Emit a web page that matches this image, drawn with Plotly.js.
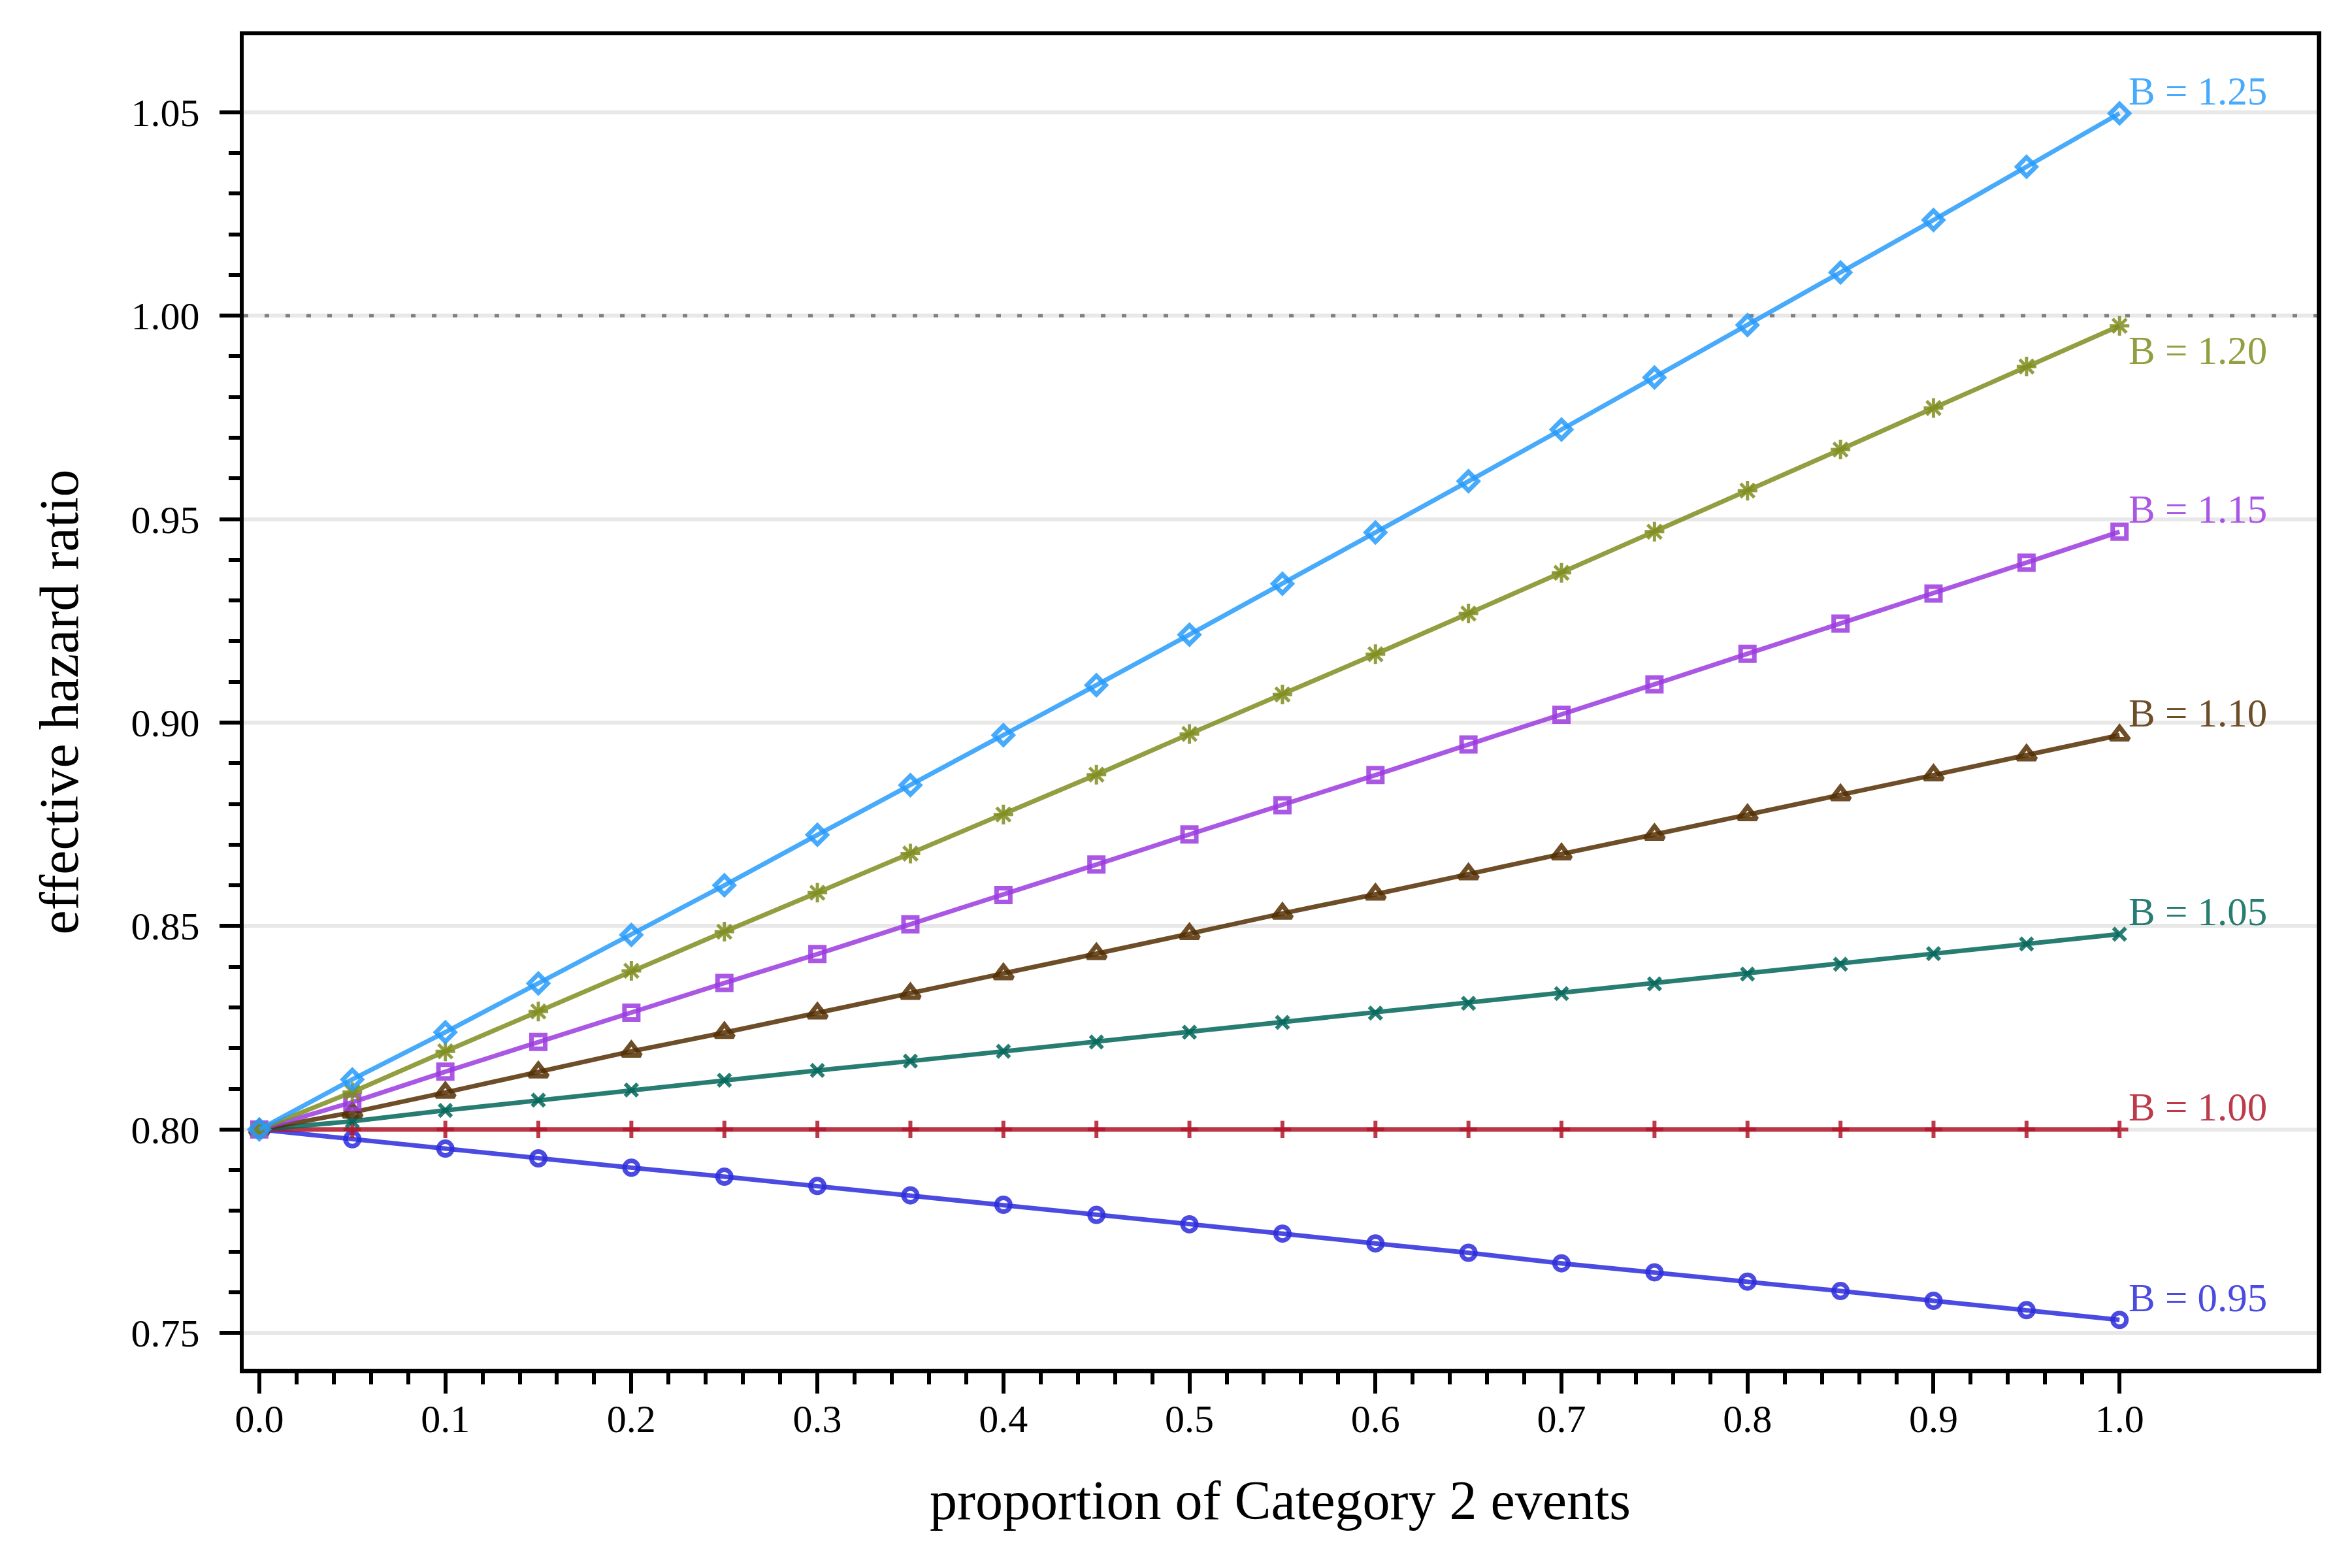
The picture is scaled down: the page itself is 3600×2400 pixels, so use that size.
<!DOCTYPE html>
<html>
<head>
<meta charset="utf-8">
<script src="https://cdn.plot.ly/plotly-3.0.1.min.js"></script>
<style>
  html, body { margin: 0; padding: 0; background: #fff; }
  #graph { width: 3600px; height: 2400px; }
</style>
</head>
<body>
<div id="graph"></div>
<script>
// proportion of Category 2 events
var props = [0.00, 0.05, 0.10, 0.15, 0.20, 0.25, 0.30, 0.35, 0.40, 0.45, 0.50,
             0.55, 0.60, 0.65, 0.70, 0.75, 0.80, 0.85, 0.90, 0.95, 1.00];

// effective hazard ratio, one array per B
var hr095 = [0.8000, 0.7976, 0.7953, 0.7929, 0.7906, 0.7884, 0.7861, 0.7838, 0.7815, 0.7790, 0.7767,
             0.7744, 0.7720, 0.7697, 0.7671, 0.7649, 0.7626, 0.7603, 0.7579, 0.7556, 0.7532];
var hr100 = [0.8000, 0.8000, 0.8000, 0.8000, 0.8000, 0.8000, 0.8000, 0.8000, 0.8000, 0.8000, 0.8000,
             0.8000, 0.8000, 0.8000, 0.8000, 0.8000, 0.8000, 0.8000, 0.8000, 0.8000, 0.8000];
var hr105 = [0.8000, 0.8020, 0.8047, 0.8072, 0.8097, 0.8121, 0.8145, 0.8168, 0.8192, 0.8215, 0.8239,
             0.8263, 0.8286, 0.8310, 0.8334, 0.8358, 0.8382, 0.8406, 0.8432, 0.8456, 0.8480];
var hr110 = [0.8000, 0.8042, 0.8091, 0.8141, 0.8192, 0.8238, 0.8286, 0.8334, 0.8382, 0.8432, 0.8481,
             0.8531, 0.8578, 0.8628, 0.8677, 0.8725, 0.8773, 0.8822, 0.8871, 0.8920, 0.8969];
var hr115 = [0.8000, 0.8067, 0.8142, 0.8215, 0.8287, 0.8360, 0.8431, 0.8504, 0.8576, 0.8651, 0.8725,
             0.8797, 0.8871, 0.8946, 0.9019, 0.9094, 0.9169, 0.9243, 0.9317, 0.9393, 0.9469];
var hr120 = [0.8000, 0.8092, 0.8192, 0.8290, 0.8390, 0.8486, 0.8582, 0.8678, 0.8774, 0.8872, 0.8972,
             0.9069, 0.9168, 0.9268, 0.9368, 0.9469, 0.9570, 0.9671, 0.9773, 0.9875, 0.9975];
var hr125 = [0.8000, 0.8123, 0.8239, 0.8359, 0.8478, 0.8600, 0.8724, 0.8846, 0.8969, 0.9092, 0.9216,
             0.9341, 0.9467, 0.9593, 0.9720, 0.9848, 0.9977, 1.0106, 1.0235, 1.0366, 1.0497];

var bLabels = ['B = 0.95', 'B = 1.00', 'B = 1.05', 'B = 1.10', 'B = 1.15', 'B = 1.20', 'B = 1.25'];
var series  = [hr095, hr100, hr105, hr110, hr115, hr120, hr125];

var colors  = ['43,43,220', '178,23,43', '2,102,90', '84,47,2', '155,59,223', '127,141,30', '40,155,250'];
var symbols = ['circle-open', 'cross-thin-open', 'x-thin-open', 'triangle-up-open',
               'square-open', 'asterisk-open', 'diamond-open'];
var msizes  = [21, 19, 19, 25, 21, 25, 22];
var mwidths = [7, 6, 6, 7, 7, 5, 7];
var labelShift = [34, 34, 34, 34, 34, -38, 34];

var serif = '"Liberation Serif", "Times New Roman", serif';

var traces = [];
var notes = [];
for (var i = 0; i < series.length; i++) {
  var c = 'rgba(' + colors[i] + ',0.85)';
  traces.push({
    x: props,
    y: series[i],
    mode: 'lines+markers',
    type: 'scatter',
    name: bLabels[i],
    line: { color: c, width: 7 },
    marker: { symbol: symbols[i], size: msizes[i], color: c, line: { width: mwidths[i], color: c } }
  });
  var n = series[i].length - 1;
  notes.push({
    x: props[n], y: series[i][n],
    xref: 'x', yref: 'y',
    text: bLabels[i],
    showarrow: false,
    xanchor: 'left', yanchor: 'middle',
    xshift: 12, yshift: labelShift[i],
    font: { family: serif, size: 61, color: c }
  });
}

var xMajor = [0, 0.1, 0.2, 0.3, 0.4, 0.5, 0.6, 0.7, 0.8, 0.9, 1.0];
var xText  = ['0.0', '0.1', '0.2', '0.3', '0.4', '0.5', '0.6', '0.7', '0.8', '0.9', '1.0'];
var xMinor = [];
for (var k = 0; k <= 50; k++) xMinor.push(k * 0.02);
var yMajor = [0.75, 0.80, 0.85, 0.90, 0.95, 1.00, 1.05];
var yText  = ['0.75', '0.80', '0.85', '0.90', '0.95', '1.00', '1.05'];
var yMinor = [];
for (var k = 0; k <= 30; k++) yMinor.push(0.75 + k * 0.01);

var xRange = [-0.0084, 1.106];

var layout = {
  width: 3600,
  height: 2400,
  showlegend: false,
  paper_bgcolor: '#fff',
  plot_bgcolor: '#fff',
  margin: { l: 373, r: 54, t: 54, b: 305, pad: 0 },
  font: { family: serif, size: 60, color: '#000' },
  xaxis: {
    range: xRange,
    tickmode: 'array', tickvals: xMajor, ticktext: xText,
    ticks: 'outside', ticklen: 31, tickwidth: 6, tickcolor: '#000',
    ticklabelstandoff: -13,
    minor: { tickmode: 'array', tickvals: xMinor, ticks: 'outside', ticklen: 17, tickwidth: 6, tickcolor: '#000', showgrid: false },
    showgrid: false, zeroline: false,
    showline: true, linewidth: 6.5, linecolor: '#000', mirror: true,
    tickfont: { family: serif, size: 60, color: '#000' },
    title: { text: 'proportion of Category 2 events', standoff: 65,
             font: { family: serif, size: 84, color: '#000' } }
  },
  yaxis: {
    range: [0.7412, 1.0689],
    tickmode: 'array', tickvals: yMajor, ticktext: yText,
    ticks: 'outside', ticklen: 31, tickwidth: 6, tickcolor: '#000',
    ticklabelstandoff: 18,
    minor: { tickmode: 'array', tickvals: yMinor, ticks: 'outside', ticklen: 17, tickwidth: 6, tickcolor: '#000', showgrid: false },
    showgrid: true, gridcolor: '#e8e8e8', gridwidth: 6,
    zeroline: false,
    showline: true, linewidth: 6.5, linecolor: '#000', mirror: true,
    tickfont: { family: serif, size: 60, color: '#000' },
    title: { text: 'effective hazard ratio', standoff: 55,
             font: { family: serif, size: 84, color: '#000' } }
  },
  shapes: [{
    type: 'line', xref: 'x', yref: 'y',
    x0: xRange[0], x1: xRange[1], y0: 1.0, y1: 1.0,
    layer: 'between',
    line: { color: '#808080', width: 5, dash: '7px,25px' }
  }],
  annotations: notes
};

Plotly.newPlot('graph', traces, layout, { staticPlot: true });
</script>
</body>
</html>
